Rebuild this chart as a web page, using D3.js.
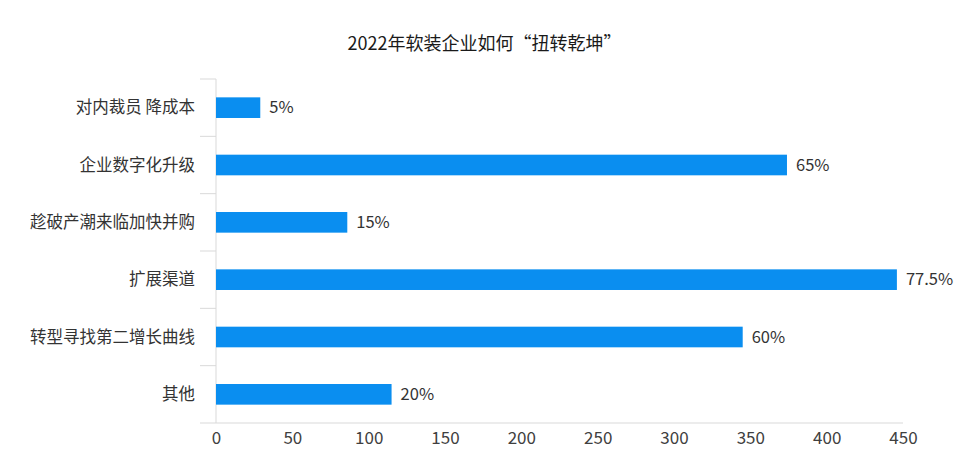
<!DOCTYPE html>
<html>
<head>
<meta charset="utf-8">
<script src="https://cdn.jsdelivr.net/npm/d3@7"></script>
<style>
  body { margin: 0; background: #fff; }
  text { font-family: "Noto Sans CJK SC", "Noto Sans", sans-serif; }
</style>
</head>
<body>
<div id="chart"></div>
<script>
// data
var categories = ["对内裁员 降成本", "企业数字化升级", "趁破产潮来临加快并购", "扩展渠道", "转型寻找第二增长曲线", "其他"];
var values = [29, 374, 86, 446, 345, 115];
var labels = ["5%", "65%", "15%", "77.5%", "60%", "20%"];
var xTicks = [0, 50, 100, 150, 200, 250, 300, 350, 400, 450];

var data = categories.map(function(c, i) { return {cat: c, val: values[i], lab: labels[i]}; });

var W = 969, H = 471;
var margin = {top: 79, right: 65, bottom: 48, left: 216};
var width = W - margin.left - margin.right,
    height = H - margin.top - margin.bottom;

var svg = d3.select("#chart")
  .append("svg")
    .attr("width", W)
    .attr("height", H);

svg.append("text")
  .attr("x", W / 2)
  .attr("y", 50)
  .attr("text-anchor", "middle")
  .attr("font-size", 18)
  .attr("font-weight", 400)
  .attr("fill", "#1a1a1a")
  .text("2022年软装企业如何“扭转乾坤”");

var g = svg.append("g")
  .attr("transform", "translate(" + margin.left + "," + margin.top + ")");

var x = d3.scaleLinear()
  .domain([0, 450])
  .range([0, 687]);

var y = d3.scaleBand()
  .domain(categories)
  .range([0, height])
  .paddingInner(0.64)
  .paddingOuter(0.32);

// x axis
var xAxis = g.append("g")
  .attr("transform", "translate(0," + height + ")")
  .call(d3.axisBottom(x).tickValues(xTicks).tickSize(0).tickPadding(9));
xAxis.select(".domain").attr("stroke", "#d9d9d9").attr("d", "M0,0H" + x(450));
xAxis.selectAll("text").attr("font-size", 17).attr("fill", "#404040")
  .style("font-family", "'Noto Sans CJK SC', sans-serif");

// y axis line + category boundary ticks
g.append("line")
  .attr("x1", 0).attr("x2", 0)
  .attr("y1", 0).attr("y2", height)
  .attr("stroke", "#d9d9d9");
var bounds = categories.map(function(c) { return y(c) - y.step() * y.paddingInner() / 2; });
bounds.push(height);
g.selectAll(".ytick")
  .data(bounds)
  .enter()
  .append("line")
    .attr("x1", -16).attr("x2", 0)
    .attr("y1", function(d) { return d; })
    .attr("y2", function(d) { return d; })
    .attr("stroke", "#d9d9d9");

g.selectAll(".cat")
  .data(data)
  .enter()
  .append("text")
    .attr("x", -21)
    .attr("y", function(d) { return y(d.cat) + y.bandwidth() / 2; })
    .attr("dy", "0.35em")
    .attr("text-anchor", "end")
    .attr("font-size", 16.5)
    .attr("fill", "#333")
    .text(function(d) { return d.cat; });

// bars
g.selectAll("rect")
  .data(data)
  .enter()
  .append("rect")
    .attr("x", x(0))
    .attr("y", function(d) { return y(d.cat); })
    .attr("width", function(d) { return x(d.val) - x(0); })
    .attr("height", y.bandwidth())
    .attr("fill", "#0a8ef0");

g.selectAll(".lab")
  .data(data)
  .enter()
  .append("text")
    .attr("x", function(d) { return x(d.val) + 9; })
    .attr("y", function(d) { return y(d.cat) + y.bandwidth() / 2; })
    .attr("dy", "0.35em")
    .attr("font-size", 16.5)
    .attr("fill", "#333")
    .text(function(d) { return d.lab; });
</script>
</body>
</html>
